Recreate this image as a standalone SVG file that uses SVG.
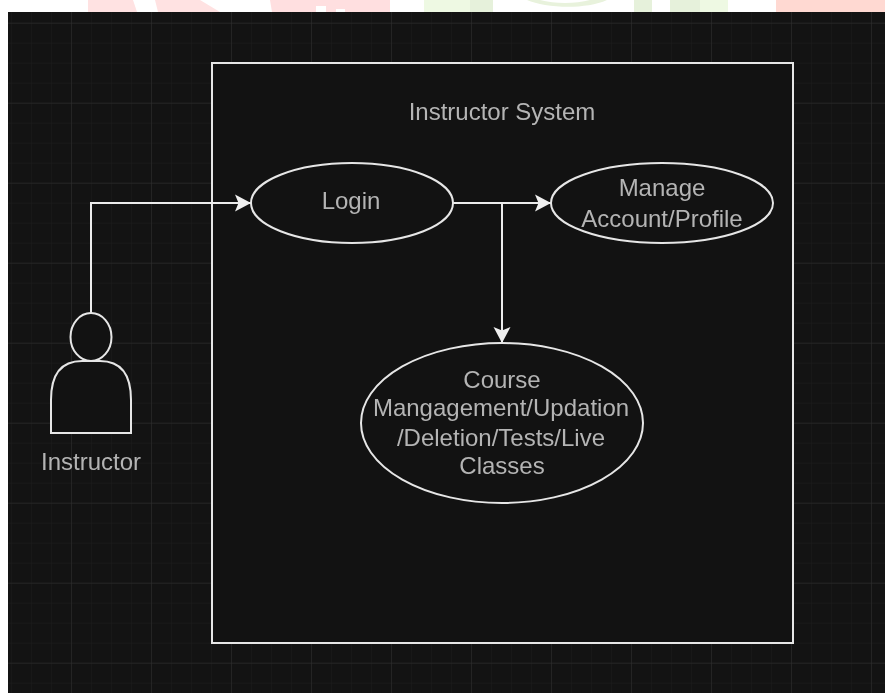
<svg xmlns="http://www.w3.org/2000/svg" width="885" height="693" viewBox="0 0 885 693">
<defs>
<pattern id="minor" x="11" y="2.7" width="20" height="20" patternUnits="userSpaceOnUse"><path d="M0 0H20M0 0V20" fill="none" stroke="#1d1d1d" stroke-width="1"/></pattern>
<pattern id="major" x="-9" y="22.7" width="80" height="80" patternUnits="userSpaceOnUse"><path d="M0 0H80M0 0V80" fill="none" stroke="#303030" stroke-width="1"/></pattern>
<marker id="arrow" markerUnits="userSpaceOnUse" markerWidth="18" markerHeight="18" refX="16" refY="9" orient="auto" viewBox="0 0 18 18"><path d="M0 0.500L16 9L0 17.500L3.500 9Z" fill="#f0f0f0"/></marker>
<filter id="soft" x="0" y="0" width="100%" height="100%" color-interpolation-filters="sRGB"><feGaussianBlur stdDeviation="0.4"/></filter>
</defs>
<style>
.shape{fill:#121212;stroke:#e6e6e6;stroke-width:2}
.conn{fill:none;stroke:#ececec;stroke-width:2;marker-end:url(#arrow)}
text{font-family:"Liberation Sans",Arial,sans-serif;font-size:24px;fill:#b4b4b4;text-anchor:middle}
</style>
<rect width="885" height="693" fill="#fff"/>
<g id="banner">
<path d="M88 0H133L137 12H88Z" fill="#ffe2e2"/>
<path d="M155 0H200L220 12H158Z" fill="#ffe2e2"/>
<path d="M270 0H390V12H345V9H336V12H326V6H316V12H272Z" fill="#ffdfe0"/>
<path d="M424 0H470V12H424Z" fill="#eef9e3"/>
<path d="M470 0H493V12H470Z" fill="#e6f1db"/>
<path d="M527 0C545 8 585 10 607 0H590C575 4 555 4 540 0Z" fill="#e8f2dc"/>
<path d="M634 0H652V12H634Z" fill="#e6f1db"/>
<path d="M670 0H700V12H670Z" fill="#e6f1db"/>
<path d="M700 0H728V12H700Z" fill="#eef9e3"/>
<path d="M776 0H885V12H776Z" fill="#ffd9d2"/>
</g>
<g filter="url(#soft)">
<rect x="8" y="12" width="877" height="681" fill="#131313"/>
<rect x="8" y="12" width="877" height="681" fill="url(#minor)"/>
<rect x="8" y="12" width="877" height="681" fill="url(#major)"/>
<g id="system"><rect class="shape" x="212" y="63" width="581" height="580"/><text x="502" y="120">Instructor System</text></g>
<g id="connectors">
<path class="conn" d="M91 313V203H251"/>
<path class="conn" d="M453 203H551"/>
<path class="conn" d="M502 203V343"/>
</g>
<g id="login"><ellipse class="shape" cx="352" cy="203" rx="101" ry="40"/><text x="351" y="209">Login</text></g>
<g id="manage"><ellipse class="shape" cx="662" cy="203" rx="111" ry="40"/><text x="662" y="196">Manage</text><text x="662" y="227">Account/Profile</text></g>
<g id="course"><ellipse class="shape" cx="502" cy="423" rx="141" ry="80"/><text x="502" y="388">Course</text><text x="501" y="416">Mangagement/Updation</text><text x="501" y="446">/Deletion/Tests/Live</text><text x="502" y="474">Classes</text></g>
<g id="instructor">
<path class="shape" d="M51 433V400C51 373 62 361 82 361H100C120 361 131 373 131 400V433Z"/>
<ellipse class="shape" cx="91" cy="337" rx="20.500" ry="24"/>
<text x="91" y="470">Instructor</text>
</g>
</g>
</svg>
